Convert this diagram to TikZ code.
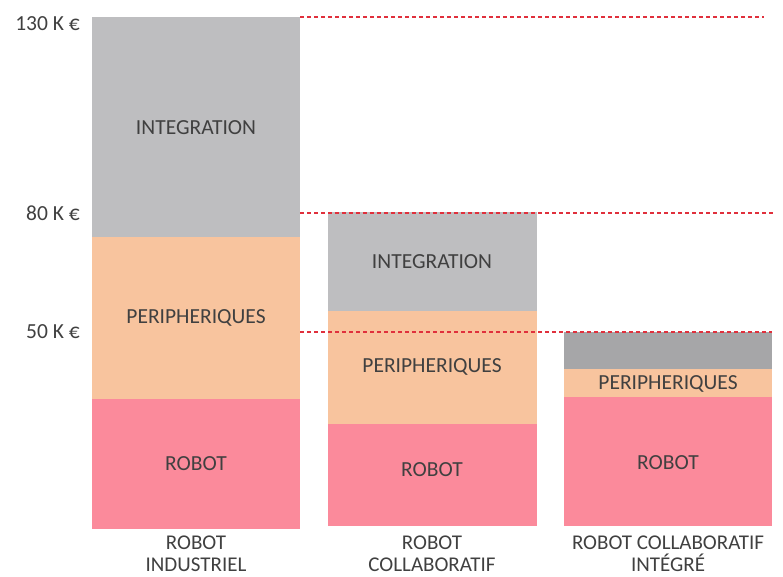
\documentclass[tikz,border=0pt]{standalone}
\usepackage{fontspec}
\setmainfont{Carlito}
\definecolor{integ}{HTML}{BEBEC0}
\definecolor{integdark}{HTML}{A6A6A8}
\definecolor{periph}{HTML}{F8C49E}
\definecolor{robotc}{HTML}{FB8A9B}
\definecolor{txt}{HTML}{404040}
\definecolor{dash}{HTML}{E0303C}
\begin{document}
\begin{tikzpicture}[x=1pt,y=-1pt,
  lab/.style={text=txt,font=\fontsize{21.5}{24}\selectfont,inner sep=0pt},
  axlab/.style={text=txt,font=\fontsize{21.5}{24}\selectfont,inner sep=0pt,anchor=east},
  cat/.style={text=txt,font=\fontsize{21}{22}\selectfont,inner sep=0pt,align=center,anchor=north,text depth=0pt},
  refline/.style={draw=dash,line width=1.1pt,dash pattern=on 4pt off 3pt}]
\useasboundingbox (0,0) rectangle (783,576);
% bar 1
\fill[integ] (92,17) rectangle (300,237);
\fill[periph] (92,237) rectangle (300,399);
\fill[robotc] (92,399) rectangle (300,529);
% bar 2
\fill[integ] (328,212) rectangle (537,311);
\fill[periph] (328,311) rectangle (537,424);
\fill[robotc] (328,424) rectangle (537,526);
% bar 3
\fill[integdark] (564,332) rectangle (772,369);
\fill[periph] (564,369) rectangle (772,397);
\fill[robotc] (564,397) rectangle (772,526);
% reference lines
\coordinate (l1a) at (300,17); \coordinate (l1b) at (764,17);
\coordinate (l2a) at (300,213); \coordinate (l2b) at (775,213);
\coordinate (l3a) at (300,332); \coordinate (l3b) at (772,332);
\draw[refline] (l1a) -- (l1b);
\draw[refline] (l2a) -- (l2b);
\draw[refline] (l3a) -- (l3b);
% axis labels
\node[axlab] (v130) at (80,24) {130 K €};
\node[axlab] (v80) at (80,213) {80 K €};
\node[axlab] (v50) at (80,332) {50 K €};
% segment labels
\node[lab] (i1) at (196,128) {INTEGRATION};
\node[lab] (p1) at (196,318) {PERIPHERIQUES};
\node[lab] (r1) at (196,464) {ROBOT};
\node[lab] (i2) at (432,262) {INTEGRATION};
\node[lab] (p2) at (432,367) {PERIPHERIQUES};
\node[lab] (r2) at (432,470) {ROBOT};
\node[lab] (p3) at (668,384) {PERIPHERIQUES};
\node[lab] (r3) at (668,463) {ROBOT};
% category labels
\node[cat] (c1) at (196,535.5) {ROBOT\\INDUSTRIEL};
\node[cat] (c2) at (432,535.5) {ROBOT\\COLLABORATIF};
\node[cat] (c3) at (668,535.5) {ROBOT COLLABORATIF\\INTÉGRÉ};
\end{tikzpicture}
\end{document}
